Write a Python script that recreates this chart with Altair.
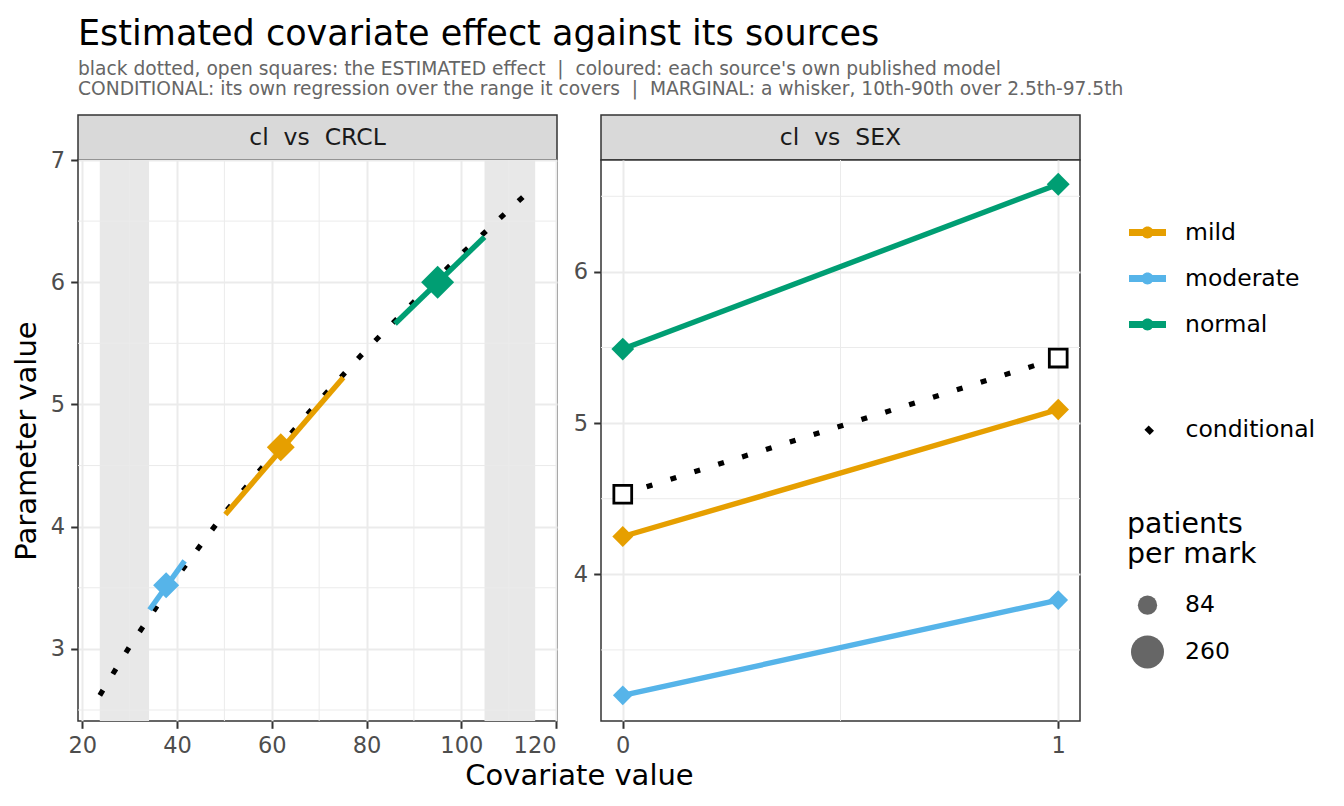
import altair as alt
import pandas as pd

FONT = "DejaVu Sans"

# ---------------- data ----------------
sources = ["mild", "moderate", "normal"]
source_colors = ["#E69F00", "#56B4E9", "#009E73"]

# panel 1: cl vs CRCL
crcl_cond_x = [23.7, 30, 40, 50, 60, 70, 80, 90, 100, 110, 115.6]
crcl_cond_y = [2.62, 3.02, 3.59, 4.11, 4.58, 5.03, 5.45, 5.84, 6.23, 6.59, 6.79]

crcl_line_src = ["moderate", "moderate", "mild", "mild", "normal", "normal"]
crcl_line_x = [34.2, 41.6, 50.2, 75.1, 86.0, 104.9]
crcl_line_y = [3.32, 3.72, 4.10, 5.22, 5.66, 6.37]

crcl_mark_src = ["moderate", "mild", "normal"]
crcl_mark_x = [37.7, 61.9, 95.0]
crcl_mark_y = [3.52, 4.65, 6.00]
crcl_mark_n = [159, 185, 260]

crcl_band_lo = [23.7, 104.9]
crcl_band_hi = [34.1, 115.6]

crcl_x_ticks = [20, 40, 60, 80, 100, 120]
crcl_x_minor = [30, 50, 70, 90, 110]
crcl_y_ticks = [3, 4, 5, 6, 7]
crcl_y_minor = [2.5, 3.5, 4.5, 5.5, 6.5]
crcl_x_domain = [19.1, 120.2]
crcl_y_domain = [2.41, 7.0]

# panel 2: cl vs SEX
sex_src = ["mild", "mild", "moderate", "moderate", "normal", "normal"]
sex_x = [0, 1, 0, 1, 0, 1]
sex_y = [4.25, 5.09, 3.20, 3.83, 5.49, 6.58]
sex_n = [100, 106, 88, 88, 120, 122]

sex_est_x = [0, 1]
sex_est_y = [4.53, 5.43]

sex_x_ticks = [0, 1]
sex_x_minor = [0.5]
sex_y_ticks = [4, 5, 6]
sex_y_minor = [3.5, 4.5, 5.5, 6.5]
sex_x_domain = [-0.05, 1.05]
sex_y_domain = [3.03, 6.74]

strip_labels = ["cl\u00a0\u00a0vs\u00a0\u00a0CRCL", "cl\u00a0\u00a0vs\u00a0\u00a0SEX"]
cond_label = ["conditional"]
size_breaks = [84, 260]

title_text = "Estimated covariate effect against its sources"
subtitle_lines = [
    "black dotted, open squares: the ESTIMATED effect \u00a0|\u00a0 coloured: each source's own published model",
    "CONDITIONAL: its own regression over the range it covers \u00a0|\u00a0 MARGINAL: a whisker, 10th-90th over 2.5th-97.5th",
]

# ---------------- layout constants ----------------
PW, PH, SH = 479, 561, 45
LEG_X = 1051
LEG_Y = 99
LINE_W = 5.4

color_path = ("M-1,-0.19H1V0.19H-1Z "
              "M-0.32,0A0.32,0.32,0,1,1,0.32,0A0.32,0.32,0,1,1,-0.32,0Z")

color_enc = alt.Color(
    "source:N",
    scale=alt.Scale(domain=sources, range=source_colors),
    legend=alt.Legend(
        title=None, orient="none", legendX=LEG_X, legendY=LEG_Y,
        symbolType=color_path, symbolSize=1369, symbolStrokeWidth=0,
        labelOffset=19, rowPadding=16, padding=0,
    ),
)
dash_enc = alt.StrokeDash(
    "kind:N",
    scale=alt.Scale(domain=cond_label, range=[[6, 19]]),
    legend=alt.Legend(
        title=None, orient="none", legendX=LEG_X + 9, legendY=LEG_Y + 204,
        symbolType="M-0.5,0.5L0.5,-0.5", symbolSize=112, symbolStrokeWidth=7.5,
        labelOffset=24, padding=0,
    ),
)
size_enc = alt.Size(
    "n:Q",
    scale=alt.Scale(domain=[84, 260], range=[372, 1089], zero=False),
    legend=alt.Legend(
        title=["patients", "per mark"], orient="none", legendX=LEG_X - 2, legendY=LEG_Y + 297,
        values=size_breaks, symbolType="circle", symbolFillColor="#666666",
        symbolStrokeWidth=0, symbolOffset=4, labelOffset=21, rowPadding=18,
        titlePadding=24, titleLineHeight=30, padding=0,
    ),
)


def axis(values, title=None, **kw):
    return alt.Axis(values=values, title=title, format="d", **kw)


def strip(label):
    return (
        alt.Chart(pd.DataFrame({"label": [label]}))
        .mark_text(font=FONT, fontSize=23.5, color="#1A1A1A")
        .encode(text="label:N", x=alt.value(PW / 2), y=alt.value(SH / 2))
        .properties(width=PW, height=SH,
                    view=alt.ViewBackground(fill="#D9D9D9", stroke="#333333", strokeWidth=1.5))
    )


# ---------------- panel 1 ----------------
xs1 = alt.Scale(domain=crcl_x_domain, nice=False, zero=False)
ys1 = alt.Scale(domain=crcl_y_domain, nice=False, zero=False)

bands = alt.Chart(pd.DataFrame({"lo": crcl_band_lo, "hi": crcl_band_hi})).mark_rect(
    color="#E8E8E8").encode(
    x=alt.X("lo:Q", scale=xs1,
            axis=axis(crcl_x_ticks, "Covariate value", titleX=501, titleY=63,
                      titleBaseline="alphabetic")),
    x2="hi:Q",
)
minor_x1 = alt.Chart(pd.DataFrame({"v": crcl_x_minor})).mark_rule(
    color="#EBEBEB", strokeWidth=1).encode(x=alt.X("v:Q", scale=xs1))
minor_y1 = alt.Chart(pd.DataFrame({"v": crcl_y_minor})).mark_rule(
    color="#EBEBEB", strokeWidth=1).encode(
    y=alt.Y("v:Q", scale=ys1,
            axis=axis(crcl_y_ticks, "Parameter value", titleX=-43, titleY=PH / 2,
                      titleBaseline="alphabetic")))
cond1 = alt.Chart(pd.DataFrame({"x": crcl_cond_x, "y": crcl_cond_y,
                                "kind": cond_label * len(crcl_cond_x)})).mark_line(
    color="black", strokeWidth=5.2, strokeCap="butt").encode(
    x=alt.X("x:Q", scale=xs1), y=alt.Y("y:Q", scale=ys1), strokeDash=dash_enc)
src1 = alt.Chart(pd.DataFrame({"x": crcl_line_x, "y": crcl_line_y,
                               "source": crcl_line_src})).mark_line(
    strokeWidth=LINE_W).encode(
    x=alt.X("x:Q", scale=xs1), y=alt.Y("y:Q", scale=ys1), color=color_enc,
    detail="source:N")
pts1 = alt.Chart(pd.DataFrame({"x": crcl_mark_x, "y": crcl_mark_y, "n": crcl_mark_n,
                               "source": crcl_mark_src})).mark_point(
    shape="diamond", filled=True, opacity=1).encode(
    x=alt.X("x:Q", scale=xs1), y=alt.Y("y:Q", scale=ys1), color=color_enc, size=size_enc)

panel1 = alt.layer(bands, minor_x1, minor_y1, cond1, src1, pts1).properties(width=PW, height=PH)

# ---------------- panel 2 ----------------
xs2 = alt.Scale(domain=sex_x_domain, nice=False, zero=False)
ys2 = alt.Scale(domain=sex_y_domain, nice=False, zero=False)

minor_x2 = alt.Chart(pd.DataFrame({"v": sex_x_minor})).mark_rule(
    color="#EBEBEB", strokeWidth=1).encode(
    x=alt.X("v:Q", scale=xs2, axis=axis(sex_x_ticks)))
minor_y2 = alt.Chart(pd.DataFrame({"v": sex_y_minor})).mark_rule(
    color="#EBEBEB", strokeWidth=1).encode(
    y=alt.Y("v:Q", scale=ys2, axis=axis(sex_y_ticks)))
cond2 = alt.Chart(pd.DataFrame({"x": sex_est_x, "y": sex_est_y,
                                "kind": cond_label * 2})).mark_line(
    color="black", strokeWidth=5.2, strokeCap="butt").encode(
    x=alt.X("x:Q", scale=xs2), y=alt.Y("y:Q", scale=ys2), strokeDash=dash_enc)
src2 = alt.Chart(pd.DataFrame({"x": sex_x, "y": sex_y, "source": sex_src})).mark_line(
    strokeWidth=LINE_W).encode(
    x=alt.X("x:Q", scale=xs2), y=alt.Y("y:Q", scale=ys2), color=color_enc,
    detail="source:N")
pts2 = alt.Chart(pd.DataFrame({"x": sex_x, "y": sex_y, "n": sex_n,
                               "source": sex_src})).mark_point(
    shape="diamond", filled=True, opacity=1).encode(
    x=alt.X("x:Q", scale=xs2), y=alt.Y("y:Q", scale=ys2), color=color_enc, size=size_enc)
sq2 = alt.Chart(pd.DataFrame({"x": sex_est_x, "y": sex_est_y})).mark_point(
    shape="square", filled=True, fill="white", stroke="black", strokeWidth=2.8,
    size=317, opacity=1).encode(
    x=alt.X("x:Q", scale=xs2), y=alt.Y("y:Q", scale=ys2))

panel2 = alt.layer(minor_x2, minor_y2, cond2, src2, pts2, sq2).properties(width=PW, height=PH)

chart = (
    alt.concat(strip(strip_labels[0]), strip(strip_labels[1]), panel1, panel2,
               columns=2, spacing=alt.RowColnumber(row=0, column=44), bounds="flush")
    .properties(
        title=alt.TitleParams(
            text=title_text, subtitle=subtitle_lines, anchor="start", frame="group",
            font=FONT, fontSize=35, fontWeight="normal", color="black",
            subtitleFont=FONT, subtitleFontSize=18.65, subtitleColor="#666666",
            subtitleLineHeight=20, subtitlePadding=8, offset=16,
        ),
        padding={"left": 11, "top": 16, "right": 10, "bottom": 10},
    )
    .configure_view(fill="white", stroke="#333333", strokeWidth=1.5)
    .configure_axis(
        labelFont=FONT, labelFontSize=22.5, labelColor="#4D4D4D", labelPadding=6,
        tickColor="#333333", tickWidth=2, tickSize=7.3, domain=False,
        gridColor="#EBEBEB", gridWidth=2,
        titleFont=FONT, titleFontSize=29, titleColor="black", titleFontWeight="normal",
    )
    .configure_legend(
        labelFont=FONT, labelFontSize=23.5, labelColor="black",
        titleFont=FONT, titleFontSize=28.4, titleColor="black", titleFontWeight="normal",
    )
)

chart.save("out.html", embed_options={"renderer": "svg", "actions": False})
